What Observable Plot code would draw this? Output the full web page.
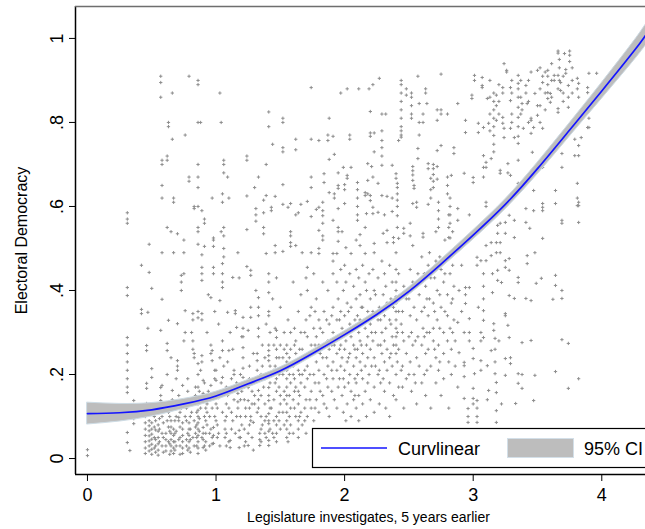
<!DOCTYPE html>
<html>
<head>
<meta charset="utf-8">
<script src="https://cdn.jsdelivr.net/npm/d3@7"></script>
<script src="https://cdn.jsdelivr.net/npm/@observablehq/plot@0.6"></script>
<style>
  html, body { margin: 0; padding: 0; background: #fff; }
  #wrap { position: relative; width: 645px; height: 529px; overflow: hidden; }
  #legend { position: absolute; left: 0; top: 0; pointer-events: none; }
</style>
</head>
<body>
<div id="wrap"></div>
<script>
// ---------- data ----------
const xLabel = "Legislature investigates, 5 years earlier";
const yLabel = "Electoral Democracy";
const xTicks = [0, 1, 2, 3, 4];
const xTickLabels = ["0", "1", "2", "3", "4"];
const yTicks = [0, 0.2, 0.4, 0.6, 0.8, 1];
const yTickLabels = ["0", ".2", ".4", ".6", ".8", "1"];
const legendLabels = ["Curvlinear", "95% CI"];

// quadratic fit
const fitX = [0, 0.25, 0.5, 0.75, 1, 1.25, 1.5, 1.75, 2, 2.25, 2.5, 2.75, 3, 3.25, 3.5, 3.75, 4, 4.25, 4.34, 4.4];
const fitY = [0.107, 0.109, 0.116, 0.13, 0.149, 0.178, 0.209, 0.25, 0.295, 0.343, 0.398, 0.463, 0.532, 0.605, 0.69, 0.782, 0.875, 0.97, 1.007, 1.03];
const ciHalf = [0.026, 0.021, 0.016, 0.012, 0.01, 0.009, 0.008, 0.008, 0.008, 0.008, 0.009, 0.01, 0.011, 0.012, 0.014, 0.016, 0.019, 0.023, 0.025, 0.026];

// scatter, as vertical strips: [x, [y values]]
const stripsA = [
  [0.00,[0.007,0.021]],
  [0.31,[0.585,0.57,0.56,0.407,0.388,0.288,0.27,0.25,0.23,0.21,0.19,0.17,0.157,0.062,0.038]],
  [0.33,[0.019]],
  [0.36,[0.138,0.095,0.083]],
  [0.42,[0.46,0.355,0.345]],
  [0.45,[0.1,0.085,0.07,0.055,0.04,0.025,0.012]],
  [0.46,[0.269,0.257,0.179,0.167,0.131]],
  [0.47,[0.348,0.31]],
  [0.48,[0.51,0.443,0.09,0.078,0.066,0.054,0.042,0.03,0.018]],
  [0.5,[0.405,0.214,0.193,0.085,0.07,0.058,0.046,0.034,0.022,0.01]],
  [0.52,[0.12,0.1,0.075,0.05,0.025]],
  [0.53,[0.09,0.068,0.045,0.03,0.015]],
  [0.55,[0.11,0.08,0.065,0.05,0.035,0.02,0.008]],
  [0.56,[0.13,0.095,0.07,0.04]],
  [0.57,[0.91,0.895,0.86,0.305,0.169,0.15,0.138]],
  [0.58,[0.71,0.7,0.65,0.62,0.49,0.379,0.174,0.1,0.06,0.03]],
  [0.59,[0.12,0.085,0.05,0.015]],
  [0.61,[0.13,0.06,0.045,0.03,0.018]],
  [0.62,[0.72,0.71,0.55,0.274,0.257,0.2,0.09]],
  [0.63,[0.8,0.79,0.329,0.11,0.075,0.04]],
  [0.64,[0.1,0.065,0.035,0.01]],
  [0.65,[0.54,0.24,0.09,0.075,0.06,0.045,0.03,0.018]],
  [0.66,[0.87,0.76,0.162,0.14]],
  [0.67,[0.62,0.61,0.49,0.12,0.07,0.055,0.04,0.025,0.012]],
  [0.68,[0.09,0.06,0.04,0.02]],
  [0.69,[0.19,0.1,0.065,0.03]],
  [0.7,[0.535,0.321,0.233,0.22,0.21]],
  [0.71,[0.15,0.098,0.09,0.045]],
  [0.72,[0.11,0.075,0.05,0.03,0.01]],
  [0.73,[0.436,0.42,0.4,0.12]],
  [0.74,[0.174,0.085,0.07,0.055,0.04,0.025,0.012]],
  [0.75,[0.52,0.49,0.44,0.28]],
  [0.76,[0.77,0.352,0.3,0.14,0.1]],
  [0.77,[0.12,0.09,0.045,0.03]],
  [0.78,[0.19,0.16,0.06,0.02]],
  [0.79,[0.91,0.67,0.66,0.085,0.07,0.055,0.04,0.025]],
  [0.8,[0.1,0.07,0.045,0.015]],
  [0.81,[0.3,0.13,0.11]],
  [0.82,[0.345,0.33,0.28,0.26,0.05]],
  [0.83,[0.6,0.595,0.25,0.24,0.09,0.03]],
  [0.84,[0.17,0.15,0.075,0.06]],
  [0.85,[0.11,0.08,0.05,0.03]],
  [0.86,[0.9,0.89,0.8,0.7,0.67,0.645,0.6,0.55,0.54,0.51,0.35,0.335,0.226,0.2,0.17,0.13,0.115,0.1,0.085,0.07,0.055,0.04,0.025,0.012]],
  [0.87,[0.16,0.14,0.095,0.065]],
  [0.88,[0.8,0.21,0.12]],
  [0.89,[0.59,0.485,0.455,0.44,0.424,0.345,0.33,0.245,0.23,0.05]],
  [0.9,[0.186,0.155,0.074,0.06,0.045,0.026]],
  [0.91,[0.57,0.56,0.505,0.18,0.14,0.1,0.03]],
  [0.92,[0.12,0.09,0.06,0.04,0.02]],
  [0.93,[0.3,0.13,0.11,0.08]],
  [0.94,[0.39,0.16]],
  [0.95,[0.14,0.1,0.06,0.03]],
  [0.96,[0.383,0.27,0.25,0.174,0.07]],
  [0.97,[0.62,0.257,0.233,0.12,0.05,0.035]],
  [0.98,[0.525,0.52,0.505,0.455,0.44,0.074,0.055,0.036]],
  [0.99,[0.35,0.21,0.19,0.1]]
];
const stripsB = [
  [1.0,[0.21,0.186,0.13,0.09]],
  [1.01,[0.12,0.08,0.05]],
  [1.02,[0.32,0.157,0.145,0.06]],
  [1.03,[0.87,0.376,0.24,0.03]],
  [1.04,[0.8,0.54,0.18]],
  [1.05,[0.63,0.61,0.464,0.44,0.42,0.407,0.28,0.257,0.193,0.155,0.11]],
  [1.06,[0.71,0.7,0.68,0.55,0.53,0.5,0.48,0.22]],
  [1.07,[0.09,0.07,0.05]],
  [1.08,[0.17,0.13,0.1,0.06,0.03]],
  [1.09,[0.67,0.348,0.23,0.15]],
  [1.1,[0.62,0.257,0.12,0.04]],
  [1.11,[0.3,0.043,0.026]],
  [1.12,[0.19,0.16,0.11,0.07]],
  [1.13,[0.431,0.26,0.09]],
  [1.14,[0.21,0.2,0.14]],
  [1.15,[0.352,0.345,0.06]],
  [1.16,[0.312,0.18,0.1]],
  [1.17,[0.49,0.155,0.135,0.12]],
  [1.18,[0.43,0.067,0.05,0.026]],
  [1.19,[0.2,0.14,0.1,0.05]],
  [1.2,[0.29,0.16,0.08]],
  [1.21,[0.336,0.31,0.29,0.264,0.24,0.215,0.193]],
  [1.22,[0.17,0.14,0.07,0.03]],
  [1.23,[0.12,0.1,0.04]],
  [1.24,[0.72,0.71,0.625,0.545,0.457]],
  [1.25,[0.305,0.169,0.138,0.06,0.031]],
  [1.26,[0.22,0.19,0.12,0.08]],
  [1.27,[0.448,0.436,0.36,0.336,0.1,0.09]],
  [1.28,[0.16,0.13,0.05]],
  [1.29,[0.25,0.086,0.02]],
  [1.3,[0.645,0.15,0.13]],
  [1.31,[0.595,0.58,0.565,0.4]],
  [1.32,[0.25,0.233,0.21,0.19,0.11]],
  [1.33,[0.67,0.383,0.36,0.34,0.31,0.29,0.162,0.14,0.12]],
  [1.34,[0.06,0.045,0.031]],
  [1.35,[0.2,0.15,0.1,0.07,0.04]],
  [1.36,[0.27,0.22,0.08]],
  [1.37,[0.615,0.585,0.55,0.535,0.17]],
  [1.38,[0.24,0.19,0.13,0.09,0.06]],
  [1.39,[0.7,0.626,0.488,0.32,0.1,0.05]],
  [1.41,[0.825,0.79,0.44,0.42,0.395,0.35,0.34,0.27,0.257,0.245,0.233,0.169,0.15,0.138,0.107,0.09,0.083,0.065,0.043,0.031]],
  [1.42,[0.3,0.22,0.18,0.12,0.07]],
  [1.43,[0.598,0.59,0.2,0.12]],
  [1.44,[0.748,0.38,0.06]],
  [1.45,[0.27,0.21,0.14,0.09,0.05]],
  [1.46,[0.624,0.507,0.49,0.31,0.22,0.18]],
  [1.47,[0.43,0.305,0.288,0.26,0.24,0.21,0.19,0.16,0.1,0.08,0.06,0.04]],
  [1.49,[0.24,0.2,0.17,0.11,0.09]],
  [1.5,[0.36,0.27,0.15,0.13,0.07]],
  [1.52,[0.81,0.8,0.74,0.73,0.652,0.605,0.493,0.24,0.2,0.11]],
  [1.53,[0.3,0.26,0.16,0.14,0.08]],
  [1.55,[0.27,0.25,0.23,0.21,0.19,0.17,0.15,0.13,0.11,0.09,0.07,0.05]],
  [1.56,[0.598,0.33,0.04]],
  [1.57,[0.24,0.2,0.15,0.1,0.06]],
  [1.58,[0.607,0.54,0.53,0.514,0.505,0.3,0.26,0.18,0.12,0.08]],
  [1.6,[0.42,0.22,0.2,0.14,0.06]],
  [1.61,[0.31,0.27,0.19,0.16,0.12]],
  [1.62,[0.76,0.735,0.58,0.507,0.28,0.25,0.17,0.1]],
  [1.64,[0.585,0.35,0.23,0.21,0.16,0.13,0.09,0.07,0.05]],
  [1.65,[0.26,0.2,0.15,0.1]],
  [1.66,[0.605,0.39,0.3,0.18,0.11]],
  [1.67,[0.49,0.26,0.2,0.08]],
  [1.69,[0.3,0.21,0.17,0.12,0.09]],
  [1.7,[0.43,0.33,0.24,0.14,0.06]],
  [1.71,[0.612,0.455,0.4,0.29,0.22,0.19,0.1]],
  [1.73,[0.34,0.25,0.2,0.14]],
  [1.74,[0.883,0.76,0.67,0.645,0.576,0.49,0.36,0.27,0.16,0.12]],
  [1.76,[0.44,0.31,0.25,0.2,0.09]],
  [1.77,[0.35,0.27,0.18,0.12]],
  [1.78,[0.593,0.38,0.29,0.23,0.14]],
  [1.8,[0.757,0.598,0.543,0.5,0.488,0.33,0.27,0.21,0.18,0.11]],
  [1.81,[0.31,0.25,0.16]],
  [1.83,[0.61,0.59,0.578,0.56,0.53,0.52,0.42,0.3,0.24,0.15]],
  [1.84,[0.678,0.657,0.35,0.2,0.13]],
  [1.86,[0.33,0.24,0.19,0.12]],
  [1.87,[0.77,0.757,0.4,0.28,0.22,0.17]],
  [1.88,[0.81,0.712,0.633,0.32,0.26,0.1]],
  [1.9,[0.34,0.27,0.21,0.16]],
  [1.91,[0.767,0.567,0.488,0.47,0.44,0.36,0.3,0.23,0.19]],
  [1.92,[0.724,0.63,0.62,0.27,0.14]],
  [1.94,[0.488,0.42,0.33,0.25,0.21,0.12]],
  [1.95,[0.68,0.65,0.643,0.595,0.55,0.54,0.517,0.38,0.29,0.17]],
  [1.96,[0.33,0.26,0.19]],
  [1.97,[0.87,0.45,0.35,0.27,0.22]],
  [1.98,[0.54,0.31,0.24,0.15]],
  [1.99,[0.693,0.4,0.19,0.11]]
];
const stripsC = [
  [2.0,[0.652,0.64,0.607,0.46,0.34,0.3,0.26,0.21,0.17]],
  [2.01,[0.502,0.42,0.28,0.09]],
  [2.02,[0.88,0.674,0.667,0.37,0.23,0.13]],
  [2.03,[0.35,0.3,0.24,0.18]],
  [2.04,[0.77,0.76,0.44,0.32,0.25,0.2]],
  [2.05,[0.693,0.488,0.36,0.29,0.16,0.1]],
  [2.07,[0.41,0.27,0.22,0.14]],
  [2.08,[0.33,0.26,0.19,0.15]],
  [2.09,[0.52,0.45,0.38,0.31,0.24,0.18,0.12]],
  [2.1,[0.657,0.64,0.62,0.6,0.58,0.567,0.34,0.26,0.2]],
  [2.11,[0.88,0.43,0.3,0.15,0.09]],
  [2.12,[0.533,0.507,0.39,0.33,0.28,0.23]],
  [2.13,[0.36,0.27,0.21]],
  [2.14,[0.46,0.36,0.25,0.19,0.13]],
  [2.16,[0.633,0.626,0.55,0.488,0.42,0.31,0.22,0.16]],
  [2.17,[0.583,0.4,0.27,0.1]],
  [2.18,[0.702,0.662,0.63,0.35,0.29,0.24,0.18]],
  [2.19,[0.88,0.44,0.2]],
  [2.2,[0.826,0.775,0.767,0.626,0.614,0.38,0.32,0.26,0.14]],
  [2.21,[0.695,0.3,0.22]],
  [2.22,[0.89,0.67,0.598,0.583,0.45,0.35,0.28]],
  [2.23,[0.775,0.73,0.512,0.49,0.4,0.24,0.17,0.11]],
  [2.24,[0.39,0.3,0.22]],
  [2.26,[0.655,0.586,0.43,0.33,0.27,0.2]],
  [2.27,[0.905,0.36,0.21,0.13]],
  [2.28,[0.33,0.27,0.18]],
  [2.29,[0.82,0.78,0.757,0.74,0.72,0.698,0.626,0.47,0.3,0.25]],
  [2.3,[0.536,0.39,0.19]],
  [2.31,[0.58,0.44,0.34,0.28,0.23,0.16]],
  [2.32,[0.82,0.41,0.31,0.12]],
  [2.33,[0.624,0.543,0.514,0.37,0.26,0.21]],
  [2.35,[0.46,0.33,0.24,0.18,0.1]],
  [2.36,[0.38,0.32,0.25]],
  [2.37,[0.698,0.62,0.588,0.42,0.29,0.22]],
  [2.38,[0.526,0.514,0.36,0.27,0.15]],
  [2.4,[0.678,0.667,0.49,0.45,0.42,0.4,0.385,0.37,0.35,0.33,0.31,0.29,0.27,0.25,0.2,0.14]],
  [2.41,[0.655,0.645,0.63,0.615,0.6,0.578,0.55,0.3,0.23]],
  [2.42,[0.757,0.524,0.44,0.35,0.26,0.17]],
  [2.44,[0.9,0.89,0.87,0.85,0.83,0.81,0.79,0.78,0.77,0.765,0.32,0.21]],
  [2.45,[0.35,0.3,0.22,0.17]],
  [2.46,[0.548,0.536,0.41,0.28,0.12]],
  [2.48,[0.88,0.865,0.38,0.25,0.19]],
  [2.5,[0.38,0.29,0.2]],
  [2.51,[0.56,0.53,0.45,0.34,0.23]],
  [2.52,[0.87,0.86,0.84,0.82,0.81,0.3,0.16]],
  [2.53,[0.695,0.685,0.675,0.662,0.607,0.507,0.42,0.27]],
  [2.54,[0.65,0.643,0.36,0.2]],
  [2.55,[0.41,0.28,0.18]],
  [2.56,[0.61,0.598,0.33,0.24,0.13]],
  [2.57,[0.91,0.738,0.714,0.44,0.29]],
  [2.58,[0.845,0.8,0.77,0.39,0.22]],
  [2.6,[0.48,0.35,0.27,0.18]],
  [2.61,[0.82,0.8,0.536,0.527,0.31]],
  [2.62,[0.44,0.36,0.29,0.2]],
  [2.63,[0.88,0.87,0.41,0.25,0.15]],
  [2.64,[0.845,0.38,0.3,0.21]],
  [2.65,[0.702,0.69,0.605,0.46,0.34,0.26]],
  [2.66,[0.49,0.38,0.3]],
  [2.67,[0.667,0.64,0.62,0.43,0.22,0.12]],
  [2.69,[0.7,0.69,0.676,0.66,0.645,0.37,0.31,0.28]],
  [2.7,[0.43,0.35,0.26]],
  [2.71,[0.54,0.47,0.24,0.18]],
  [2.72,[0.83,0.805,0.733,0.695,0.665,0.4,0.33]],
  [2.73,[0.61,0.59,0.57,0.55,0.27,0.21]],
  [2.74,[0.48,0.39,0.31,0.23]],
  [2.75,[0.915,0.83,0.82,0.745,0.45,0.36,0.15]],
  [2.77,[0.42,0.3,0.25,0.19]],
  [2.78,[0.52,0.44,0.35]],
  [2.8,[0.82,0.67,0.65,0.63,0.39,0.34,0.28]],
  [2.81,[0.58,0.55,0.526,0.23,0.12]],
  [2.82,[0.62,0.6,0.58,0.56,0.525,0.44,0.31]],
  [2.83,[0.674,0.37,0.26,0.2]],
  [2.84,[0.54,0.46,0.38,0.3]],
  [2.85,[0.74,0.726,0.41,0.33]],
  [2.86,[0.502,0.49,0.28,0.22]],
  [2.88,[0.845,0.595,0.567,0.324,0.17]],
  [2.89,[0.4,0.252]],
  [2.91,[0.46,0.35]],
  [2.93,[0.679,0.3,0.229,0.221,0.195,0.143]],
  [2.94,[0.805,0.776,0.407,0.39,0.369]],
  [2.96,[0.119,0.1,0.086]],
  [2.97,[0.58,0.407,0.333,0.3,0.28]],
  [2.99,[0.865,0.857]]
];
const stripsD = [
  [3.0,[0.669,0.657,0.262,0.238,0.167,0.143,0.13]],
  [3.01,[0.912,0.9,0.202]],
  [3.03,[0.479,0.46,0.138,0.12,0.1,0.086]],
  [3.04,[0.798,0.776,0.36]],
  [3.06,[0.471,0.3,0.28,0.233,0.21]],
  [3.07,[0.907,0.888,0.883]],
  [3.08,[0.788,0.721,0.693,0.67,0.44,0.41,0.38,0.352,0.329,0.288]],
  [3.1,[0.705,0.693,0.61,0.6,0.507,0.471]],
  [3.11,[0.857,0.221,0.14]],
  [3.12,[0.798,0.567,0.162]],
  [3.13,[0.9,0.86,0.82,0.78]],
  [3.14,[0.714,0.514,0.483,0.257]],
  [3.15,[0.44,0.395]],
  [3.16,[0.87,0.85,0.83,0.81,0.79,0.769,0.748,0.73,0.579,0.321,0.305]],
  [3.17,[0.286,0.26,0.23,0.202]],
  [3.18,[0.865,0.84,0.805,0.514,0.49,0.181,0.157,0.114,0.086]],
  [3.19,[0.555,0.536,0.448,0.424]],
  [3.2,[0.89,0.85,0.82,0.28]],
  [3.21,[0.686,0.679,0.56,0.514,0.49]],
  [3.22,[0.419,0.13]],
  [3.23,[0.883,0.87,0.812,0.798]],
  [3.24,[0.94,0.786,0.764]],
  [3.25,[0.562,0.536,0.471,0.455,0.345,0.34,0.238,0.198]],
  [3.26,[0.924,0.92]],
  [3.27,[0.702,0.68,0.317]],
  [3.28,[0.579,0.476,0.448,0.388,0.288]],
  [3.29,[0.883,0.852,0.786,0.674,0.24,0.226]],
  [3.3,[0.9,0.87,0.82,0.8]],
  [3.32,[0.764,0.567,0.526,0.381]],
  [3.33,[0.131]],
  [3.35,[0.912,0.893,0.88,0.86,0.836,0.812,0.79,0.767,0.75,0.71,0.655,0.431,0.419,0.202,0.179]],
  [3.37,[0.9,0.86,0.82]],
  [3.38,[0.845,0.83,0.276,0.2,0.167]],
  [3.39,[0.786]],
  [3.41,[0.888,0.87,0.595,0.562,0.381]],
  [3.42,[0.845,0.483,0.464]],
  [3.43,[0.9,0.85,0.8]],
  [3.44,[0.548]],
  [3.45,[0.92,0.81,0.805,0.774,0.669,0.376,0.281]],
  [3.46,[0.729,0.686]],
  [3.47,[0.788,0.638,0.59,0.138]],
  [3.48,[0.869,0.49,0.198]],
  [3.49,[0.417]],
  [3.5,[0.924,0.84,0.817]],
  [3.52,[0.93,0.88,0.84,0.8]],
  [3.53,[0.429]],
  [3.54,[0.91,0.895,0.786,0.693,0.607,0.598,0.59,0.524]],
  [3.56,[0.92,0.87,0.83]],
  [3.58,[0.924,0.91,0.89,0.871,0.857]],
  [3.6,[0.869,0.848]],
  [3.61,[0.94,0.9,0.86]],
  [3.62,[0.379]],
  [3.63,[0.912,0.9]],
  [3.64,[0.638,0.607,0.436,0.412,0.207]],
  [3.66,[0.97,0.965,0.912,0.88,0.833,0.824]],
  [3.67,[0.95,0.93,0.9]],
  [3.68,[0.895,0.876]],
  [3.69,[0.726,0.693,0.567,0.56,0.4,0.381,0.283]],
  [3.7,[0.91,0.87,0.85]],
  [3.71,[0.964]],
  [3.72,[0.926,0.917]],
  [3.74,[0.888,0.86,0.836,0.274,0.167]],
  [3.75,[0.97,0.96,0.945]],
  [3.77,[0.93,0.9,0.87]],
  [3.79,[0.76,0.721]],
  [3.81,[0.905,0.88,0.655,0.62,0.602]],
  [3.82,[0.893,0.86,0.745,0.721,0.61,0.602,0.562,0.19]],
  [3.84,[0.764]],
  [3.89,[0.883,0.871,0.788]],
  [3.9,[0.917,0.81,0.788]],
  [3.96,[0.917]]
];

// ---------- build ----------
const xDomain = [-0.093, 4.34];
const yDomain = [-0.038, 1.076];
const FONT = "'Liberation Sans', Arial, Helvetica, sans-serif";

const points = [...stripsA, ...stripsB, ...stripsC, ...stripsD]
  .flatMap(([x, ys]) => ys.map(y => ({x, y})));
const fit = fitX.map((x, i) => ({x, y: fitY[i], lo: fitY[i] - ciHalf[i], hi: fitY[i] + ciHalf[i]}));

const chart = Plot.plot({
  width: 645,
  height: 529,
  marginLeft: 75,
  marginRight: 0,
  marginTop: 6,
  marginBottom: 55,
  style: {fontFamily: FONT, background: "#fff", color: "#000", overflow: "visible"},
  x: {domain: xDomain},
  y: {domain: yDomain},
  marks: [
    Plot.dot(points, {x: "x", y: "y", symbol: "plus", r: 1.15, stroke: "#8e8e8e", strokeWidth: 1}),
    Plot.areaY(fit, {x: "x", y1: "lo", y2: "hi", fill: "#bdbdbd", stroke: "#cddbe4", strokeWidth: 1, curve: "natural", clip: true}),
    Plot.line(fit, {x: "x", y: "y", stroke: "#1414ff", strokeWidth: 1.7, curve: "natural", clip: true}),
    // frame lines
    Plot.ruleX([xDomain[0]], {stroke: "#000", strokeWidth: 1.5}),
    Plot.ruleY([yDomain[0]], {stroke: "#000", strokeWidth: 1.5}),
    Plot.ruleY([yDomain[1]], {stroke: "#6e6e6e", strokeWidth: 1.5}),
    // x axis
    Plot.axisX(xTicks, {tickSize: 7, tickPadding: 7, fontSize: 18, tickFormat: (d, i) => xTickLabels[i], label: null, stroke: "#000"}),
    Plot.text([xLabel], {frameAnchor: "bottom", dx: 8, dy: 43, fontSize: 14, textAnchor: "middle", lineAnchor: "middle", fill: "#000"}),
    // y axis
    Plot.axisY(yTicks, {tickSize: 6, tickFormat: () => "", label: null, stroke: "#000"}),
    Plot.text(yTicks, {y: d => d, frameAnchor: "left", dx: -18, rotate: -90, text: (d, i) => yTickLabels[i], fontSize: 18, textAnchor: "middle", lineAnchor: "middle", fill: "#000"}),
    Plot.text([yLabel], {frameAnchor: "left", dx: -54, rotate: -90, fontSize: 16, textAnchor: "middle", lineAnchor: "middle", fill: "#000"})
  ]
});

const wrap = document.getElementById("wrap");
wrap.appendChild(chart);

// legend overlay (inside the plot region, bottom right, as in the reference)
const lg = d3.select(wrap).append("svg")
  .attr("id", "legend")
  .attr("width", 645).attr("height", 529)
  .style("font-family", FONT);
const box = {x: 312, y: 428, w: 400, h: 39};
lg.append("rect").attr("x", box.x + 0.5).attr("y", box.y + 0.5).attr("width", box.w).attr("height", box.h)
  .attr("fill", "#fff").attr("stroke", "#000").attr("stroke-width", 1.2);
lg.append("line").attr("x1", 321).attr("x2", 387).attr("y1", 448).attr("y2", 448)
  .attr("stroke", "#1414ff").attr("stroke-width", 1.7);
lg.append("text").attr("x", 398).attr("y", 455).attr("font-size", 18).attr("fill", "#000").text(legendLabels[0]);
lg.append("rect").attr("x", 507.5).attr("y", 438.5).attr("width", 66).attr("height", 19)
  .attr("fill", "#bdbdbd").attr("stroke", "#d3dfe8").attr("stroke-width", 1);
lg.append("text").attr("x", 584).attr("y", 455).attr("font-size", 18).attr("fill", "#000").text(legendLabels[1]);
</script>
</body>
</html>
